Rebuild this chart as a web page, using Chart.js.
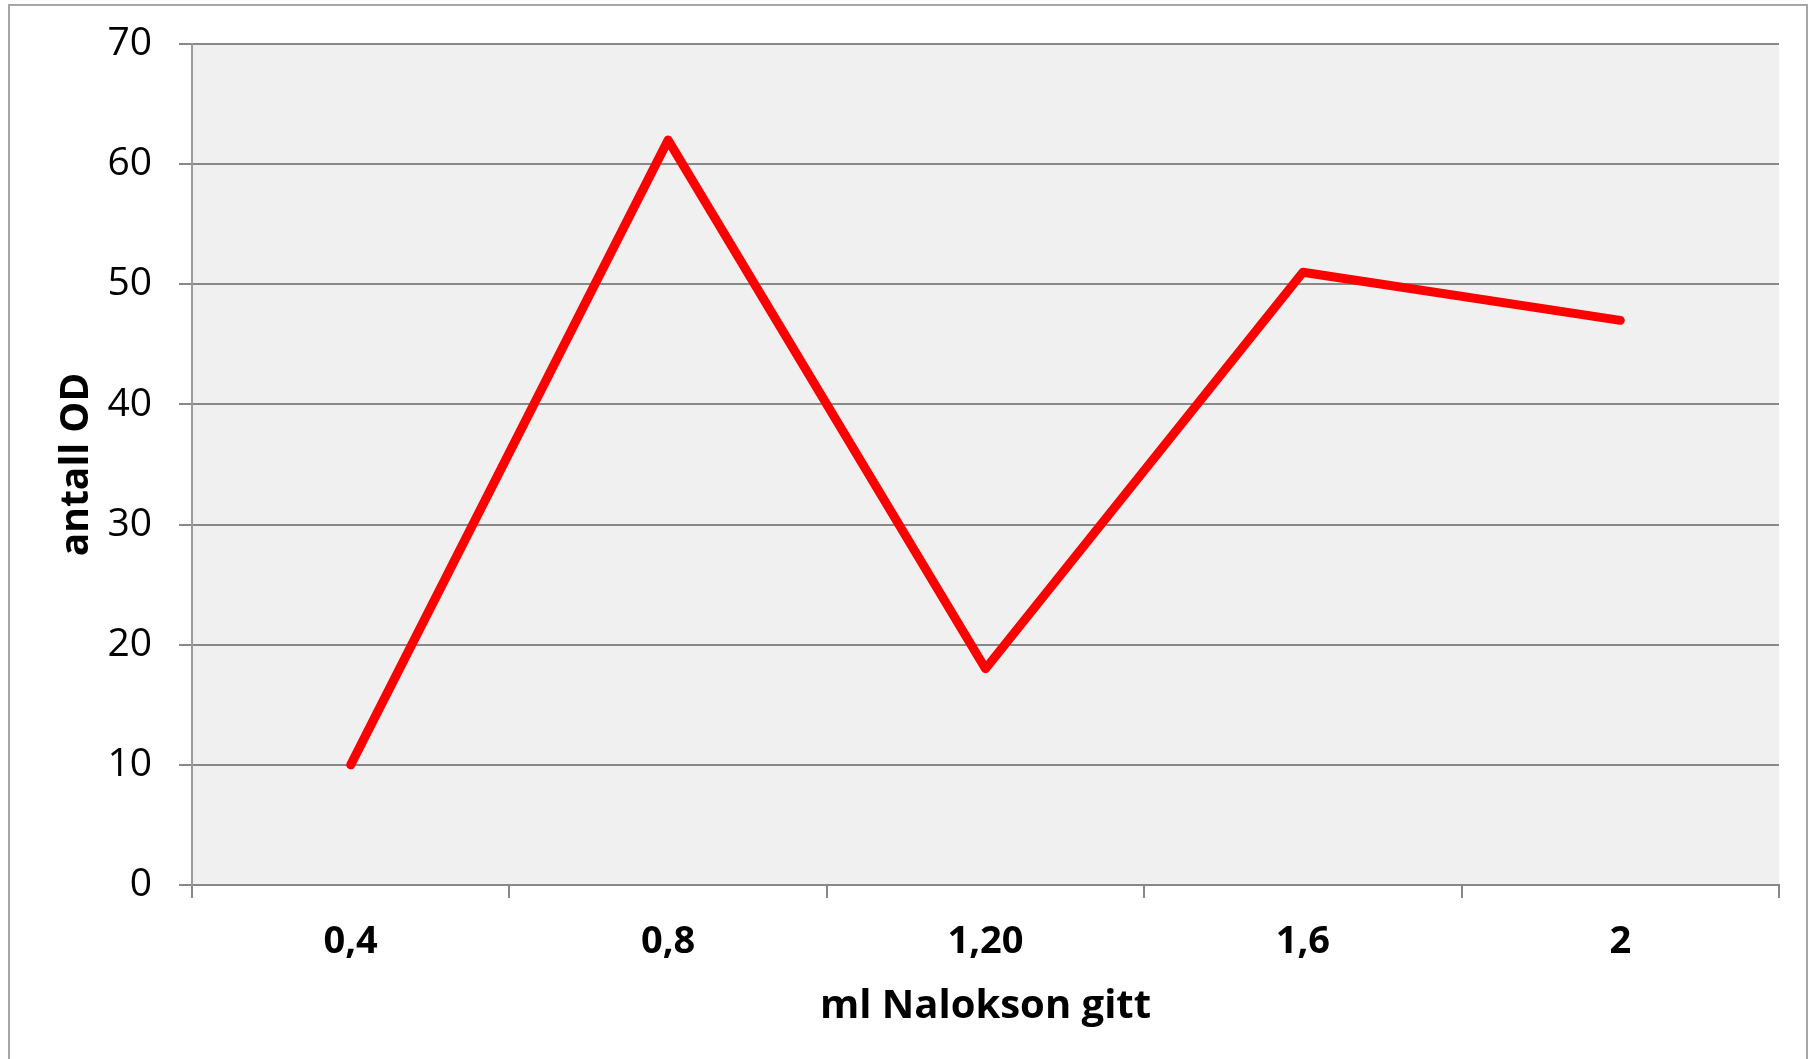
<!DOCTYPE html>
<html>
<head>
<meta charset="utf-8">
<script src="https://cdn.jsdelivr.net/npm/chart.js@4"></script>
<style>
  html, body { margin: 0; padding: 0; background: #ffffff; }
  canvas { display: block; }
</style>
</head>
<body>
<canvas id="c" width="1808" height="1059"></canvas>
<script>
const categories = ["0,4", "0,8", "1,20", "1,6", "2"];
const antallOD = [10, 62, 18, 51, 47];
const yTicks = [0, 10, 20, 30, 40, 50, 60, 70];

const FONT = "'Open Sans', 'Noto Sans', sans-serif";

const framePlugin = {
  id: 'frame',
  beforeDraw(chart) {
    const { ctx, chartArea: a } = chart;
    ctx.save();
    ctx.fillStyle = '#ffffff';
    ctx.fillRect(0, 0, chart.width, chart.height);
    ctx.fillStyle = '#f0f0f0';
    ctx.fillRect(a.left, a.top, a.right - a.left, a.bottom - a.top);
    ctx.strokeStyle = '#a6a6a6';
    ctx.lineWidth = 2;
    ctx.beginPath();
    ctx.moveTo(9, chart.height + 5);
    ctx.lineTo(9, 5);
    ctx.lineTo(1807, 5);
    ctx.lineTo(1807, chart.height + 5);
    ctx.stroke();
    ctx.restore();
  }
};

new Chart(document.getElementById('c'), {
  type: 'line',
  data: {
    labels: categories,
    datasets: [{
      label: 'antall OD',
      data: antallOD,
      borderColor: '#ff0000',
      backgroundColor: '#ff0000',
      borderWidth: 9,
      borderCapStyle: 'round',
      borderJoinStyle: 'round',
      pointRadius: 0,
      pointHoverRadius: 0,
      tension: 0,
      fill: false
    }]
  },
  options: {
    responsive: false,
    animation: false,
    devicePixelRatio: 1,
    layout: { padding: { left: 0, top: 44, right: 29, bottom: 0 } },
    plugins: {
      legend: { display: false },
      tooltip: { enabled: false }
    },
    scales: {
      x: {
        type: 'category',
        offset: true,
        afterFit(s) { s.height = 174; },
        grid: {
          display: true,
          offset: true,
          drawOnChartArea: false,
          drawTicks: true,
          tickLength: 13,
          color: '#888888',
          lineWidth: 2
        },
        border: { display: true, color: '#888888', width: 2 },
        ticks: {
          color: '#000000',
          padding: 21,
          maxRotation: 0,
          font: { family: FONT, size: 38, weight: 'bold' }
        },
        title: {
          display: true,
          text: 'ml Nalokson gitt',
          color: '#000000',
          font: { family: FONT, size: 40, weight: 'bold' },
          padding: { top: 0, bottom: 28 }
        }
      },
      y: {
        min: 0,
        max: 70,
        afterFit(s) { s.width = 192; s.paddingTop = 0; s.paddingBottom = 0; },
        afterBuildTicks(s) { s.ticks = yTicks.map(v => ({ value: v })); },
        grid: {
          color: '#888888',
          lineWidth: 2,
          drawTicks: true,
          tickLength: 13
        },
        border: { display: true, color: '#9a9a9a', width: 2 },
        ticks: {
          color: '#000000',
          padding: 27,
          font: { family: FONT, size: 39 }
        },
        title: {
          display: true,
          text: 'antall OD',
          color: '#000000',
          font: { family: FONT, size: 39, weight: 'bold' },
          padding: { top: 53, bottom: 0 }
        }
      }
    }
  },
  plugins: [framePlugin]
});
</script>
</body>
</html>
